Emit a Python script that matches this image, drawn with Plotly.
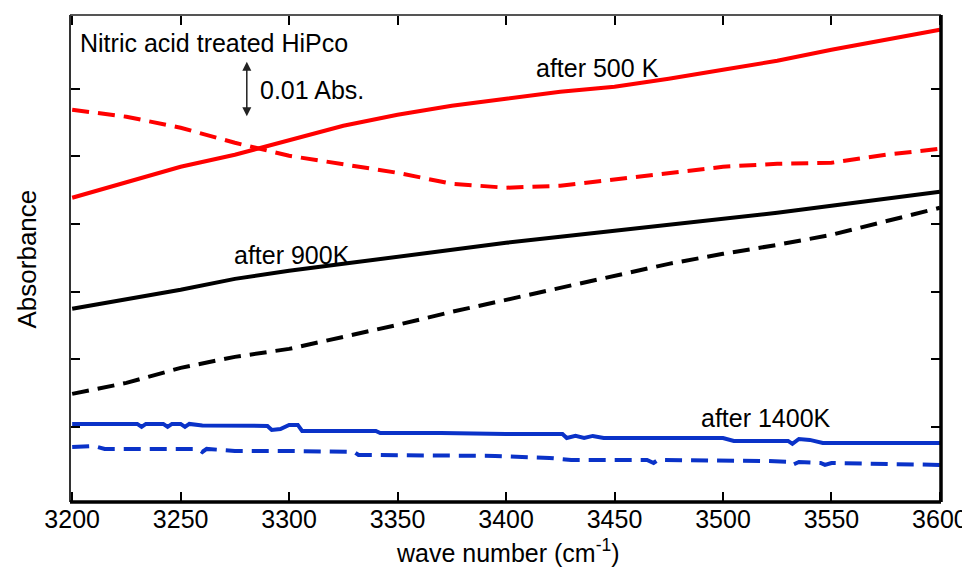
import plotly.graph_objects as go

# wavenumber grid (cm-1) for the smooth curves
wn = [3200, 3225, 3250, 3275, 3300, 3325, 3350, 3375, 3400, 3425, 3450, 3475, 3500, 3525, 3550, 3575, 3600]

# absorbance (arbitrary offset units, 1 tick = 1 unit)
red_solid = [4.388, 4.624, 4.846, 5.024, 5.246, 5.453, 5.615, 5.749, 5.852, 5.956, 6.030, 6.148, 6.281, 6.414, 6.577, 6.725, 6.873]
red_dash = [5.689, 5.586, 5.423, 5.201, 5.009, 4.876, 4.757, 4.595, 4.536, 4.565, 4.654, 4.757, 4.846, 4.891, 4.905, 5.024, 5.112]
black_solid = [2.746, 2.893, 3.027, 3.189, 3.308, 3.411, 3.515, 3.618, 3.722, 3.811, 3.899, 3.988, 4.077, 4.166, 4.269, 4.373, 4.476]
black_dash = [1.488, 1.651, 1.873, 2.036, 2.154, 2.331, 2.509, 2.701, 2.879, 3.056, 3.234, 3.411, 3.559, 3.692, 3.840, 4.033, 4.240]

blue_solid_wn = [3200, 3230, 3232, 3234, 3242, 3244, 3246, 3250, 3252, 3254, 3260, 3290, 3292, 3296, 3300, 3304, 3306,
                 3340, 3342, 3370, 3400, 3426, 3428, 3432, 3436, 3440, 3445, 3500, 3505, 3530, 3532, 3535, 3540, 3546, 3600]
blue_solid = [1.044, 1.044, 1.000, 1.044, 1.044, 1.000, 1.044, 1.044, 1.000, 1.044, 1.022, 1.015, 0.956, 0.970, 1.030, 1.030, 0.941,
              0.941, 0.911, 0.911, 0.896, 0.896, 0.837, 0.867, 0.837, 0.867, 0.837, 0.837, 0.793, 0.793, 0.749, 0.822, 0.808, 0.763, 0.763]

blue_dash_wn = [3200, 3210, 3215, 3258, 3260, 3262, 3275, 3300, 3330, 3332, 3395, 3420, 3430, 3465, 3468, 3470,
                3520, 3530, 3532, 3535, 3545, 3547, 3550, 3600]
blue_dash = [0.704, 0.719, 0.675, 0.675, 0.630, 0.675, 0.645, 0.645, 0.630, 0.586, 0.571, 0.541, 0.512, 0.512, 0.467, 0.512,
             0.497, 0.482, 0.438, 0.482, 0.467, 0.438, 0.467, 0.438]

x_ticks = [3200, 3250, 3300, 3350, 3400, 3450, 3500, 3550, 3600]
y_ticks = [1, 2, 3, 4, 5, 6]

RED = "#ff0000"
BLACK = "#000000"
BLUE = "#0a32c8"
DASH = "17px,9px"
FONT = "Liberation Sans, Arial, sans-serif"

fig = go.Figure()
fig.add_trace(go.Scatter(x=wn, y=red_solid, mode="lines", line=dict(color=RED, width=4)))
fig.add_trace(go.Scatter(x=wn, y=red_dash, mode="lines", line=dict(color=RED, width=4, dash=DASH)))
fig.add_trace(go.Scatter(x=wn, y=black_solid, mode="lines", line=dict(color=BLACK, width=4)))
fig.add_trace(go.Scatter(x=wn, y=black_dash, mode="lines", line=dict(color=BLACK, width=4, dash=DASH)))
fig.add_trace(go.Scatter(x=blue_solid_wn, y=blue_solid, mode="lines", line=dict(color=BLUE, width=4)))
fig.add_trace(go.Scatter(x=blue_dash_wn, y=blue_dash, mode="lines", line=dict(color=BLUE, width=4, dash=DASH)))

# the page body adds an 8px margin: keep the figure inside the window without scrollbars
W, H = 962, 562
L, R, T, B = 62, 29, 7, 68

fig.update_layout(
    width=W, height=H,
    margin=dict(l=L, r=R, t=T, b=B, autoexpand=False),
    paper_bgcolor="white", plot_bgcolor="white",
    showlegend=False,
    font=dict(family=FONT, color="black"),
    xaxis=dict(range=[3199, 3600.5], tickvals=x_ticks, ticktext=[str(v) for v in x_ticks],
               ticks="inside", ticklen=10, tickwidth=2, tickcolor="black", mirror="ticks",
               showline=False, showgrid=False, zeroline=False, automargin=False,
               tickfont=dict(size=25, family=FONT, color="black")),
    yaxis=dict(range=[-0.11, 7.09], tickvals=y_ticks, showticklabels=False,
               ticks="inside", ticklen=10, tickwidth=2, tickcolor="black", mirror="ticks",
               showline=False, showgrid=False, zeroline=False, automargin=False),
    shapes=[
        dict(type="line", xref="paper", yref="paper", x0=0, x1=1, y0=1, y1=1, line=dict(color="#555555", width=2)),
        dict(type="line", xref="paper", yref="paper", x0=0, x1=0, y0=0, y1=1, line=dict(color="#333333", width=2)),
        dict(type="line", xref="paper", yref="paper", x0=0, x1=1, y0=0, y1=0, line=dict(color="black", width=3.5)),
        dict(type="line", xref="paper", yref="paper", x0=1, x1=1, y0=0, y1=1, line=dict(color="black", width=3.5)),
    ],
    annotations=[
        dict(text="wave number (cm<sup>-1</sup>)", xref="paper", yref="paper", x=0.503, y=-0.101,
             xanchor="center", yanchor="middle", showarrow=False, font=dict(size=25)),
        dict(text="Absorbance", xref="paper", yref="paper", x=-0.0494, y=0.5, textangle=-90,
             xanchor="center", yanchor="middle", showarrow=False, font=dict(size=26)),
        dict(text="Nitric acid treated HiPco", x=3202.5, y=6.67, xanchor="left", yanchor="middle",
             showarrow=False, font=dict(size=25)),
        dict(text="0.01 Abs.", x=3285.5, y=5.985, xanchor="left", yanchor="middle",
             showarrow=False, font=dict(size=25)),
        dict(text="after 500 K", x=3413, y=6.31, xanchor="left", yanchor="middle",
             showarrow=False, font=dict(size=25)),
        dict(text="after 900K", x=3273.5, y=3.544, xanchor="left", yanchor="middle",
             showarrow=False, font=dict(size=25)),
        dict(text="after 1400K", x=3489, y=1.133, xanchor="left", yanchor="middle",
             showarrow=False, font=dict(size=25)),
        dict(x=3280.5, y=6.40, ax=3280.5, ay=5.57, xref="x", yref="y", axref="x", ayref="y",
             text="", showarrow=True, arrowhead=2, arrowside="end+start", arrowsize=1.2,
             arrowwidth=1.5, arrowcolor="#222222"),
    ],
)

fig.write_html("out.html")
